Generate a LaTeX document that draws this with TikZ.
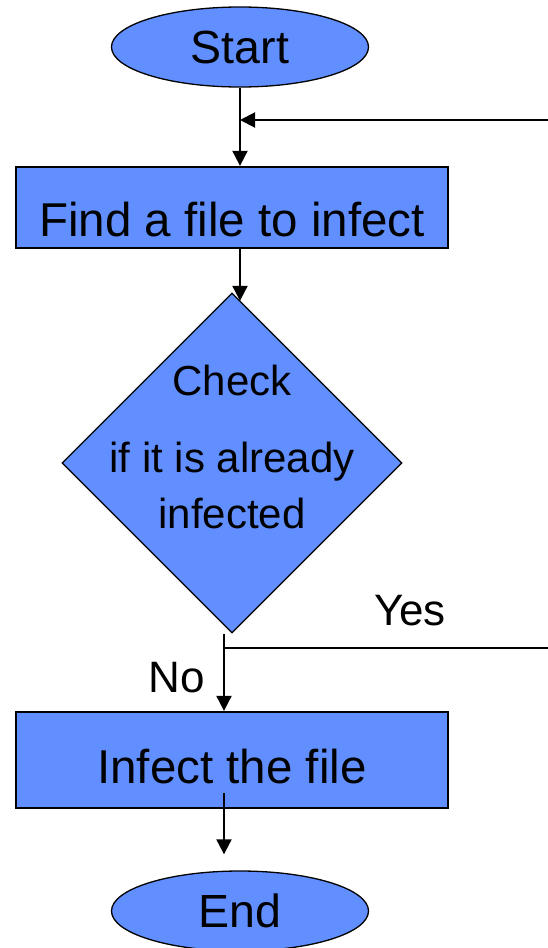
\documentclass[tikz,border=0pt]{standalone}
\usepackage{fontspec}
\setmainfont{Liberation Sans}
\usetikzlibrary{arrows.meta,shapes.geometric,positioning}
\definecolor{flowblue}{RGB}{97,143,255}
\tikzset{
  flowbox/.style={rectangle,draw=black,line width=2.3pt,fill=flowblue,minimum width=432pt,inner sep=0pt,font=\fontsize{47.5}{57}\selectfont},
  term/.style={ellipse,draw=black,line width=1.3pt,fill=flowblue,minimum width=257pt,minimum height=80pt,inner sep=0pt,font=\fontsize{46.5}{56}\selectfont},
  decide/.style={diamond,draw=black,line width=1.3pt,fill=flowblue,minimum width=340pt,minimum height=340pt,inner sep=0pt},
  arr/.style={-{Triangle[length=15pt,width=15pt]},line width=2pt},
  conn/.style={line width=2pt},
  lbl/.style={inner sep=0pt,font=\fontsize{44}{52}\selectfont}
}
\begin{document}
\begin{tikzpicture}[x=1pt,y=-1pt]
\useasboundingbox (0,0) rectangle (548,948);
% \draw[help lines,step=50] (0,0) grid (548,948);
\node (start) [term] at (240,47) {Start};
\node (find) [flowbox,text height=69.7pt,text depth=11.3pt] at (232,207.5) {Find a file to infect};
\node (check) [decide] at (232,463) {};
\node (checktext) [align=center,inner sep=0pt,font=\fontsize{42}{56}\selectfont] at (232,446.5) {Check\\[21pt]if it is already\\infected};
\node (infect) [flowbox,text height=71.3pt,text depth=24.7pt] at (232,760) {Infect the file};
\node (stop) [term] at (240,911) {End};
\coordinate (back) at (548,120);
\coordinate (split) at (224,648);
\coordinate (yesend) at (548,648);
\node (yes) [lbl,anchor=base] at (410,625) {Yes};
\node (no) [lbl,anchor=base] at (176.5,692) {No};
%
\draw[arr] (start.south) -- (start |- find.north);
\draw[arr] (back) -- (back -| start);
\draw[arr] (find.south -| start) -- (start |- check.87);
%
\draw[arr] (check.south -| split) -- (split |- infect.north);
\draw[conn] (split) -- (yesend);
\draw[arr,shorten >=16pt] ([yshift=16pt]split |- infect.south) -- (split |- stop.north);
\end{tikzpicture}
\end{document}
